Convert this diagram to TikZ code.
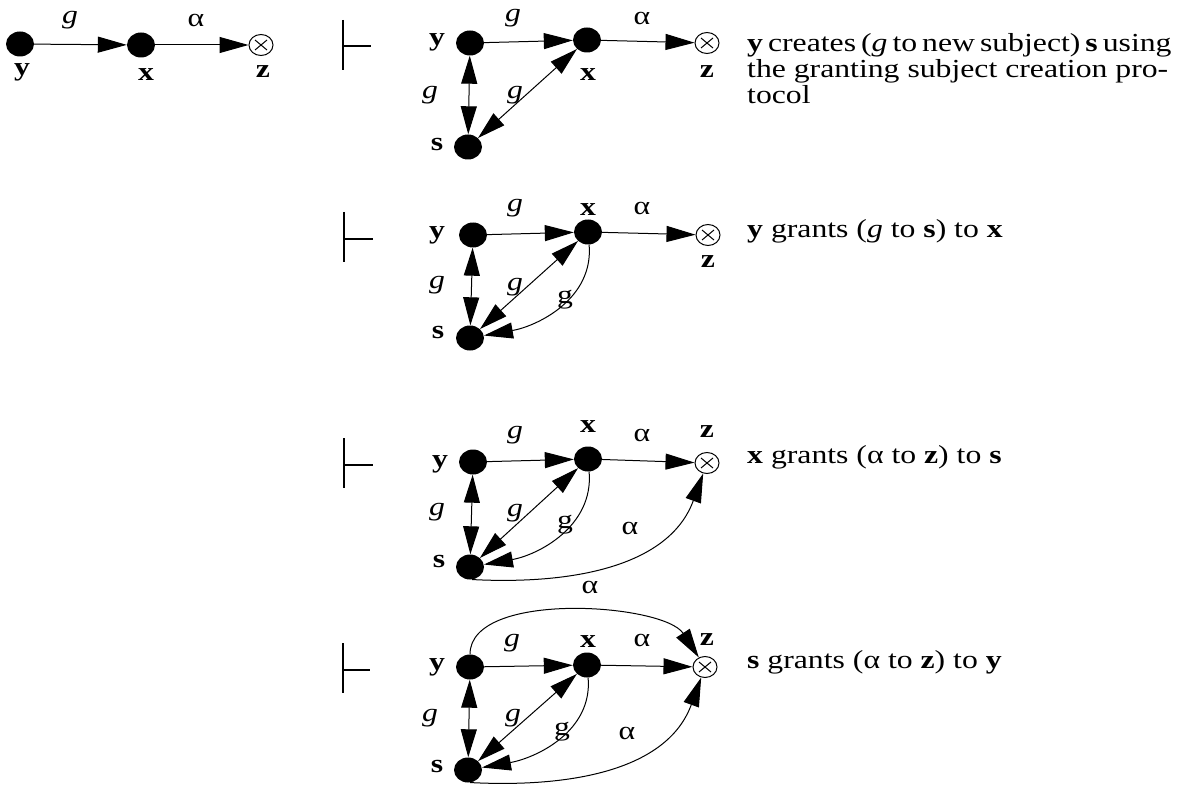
\documentclass[tikz,border=0pt]{standalone}
\usepackage{fontspec}
\setmainfont{Liberation Serif}[FakeStretch=1.22]
\usetikzlibrary{arrows.meta,shapes.geometric}
\newcommand\bigfnt{\fontsize{26}{26}\selectfont}
\newcommand\tsp{\hspace{5pt}}
\tikzset{
  dot/.style={ellipse, fill=black, minimum width=28pt, minimum height=25pt, inner sep=0pt},
  zn/.style={ellipse, draw, line width=1pt, fill=white, minimum width=24pt, minimum height=21pt, inner sep=0pt,
    path picture={\draw[line width=1pt] ([shift={(-6pt,-5pt)}]path picture bounding box.center) -- ++(12pt,10pt)
      ([shift={(-6pt,5pt)}]path picture bounding box.center) -- ++(12pt,-10pt);}},
  lbl/.style={font=\bigfnt\bfseries, inner sep=0pt},
  elbl/.style={font=\bigfnt, inner sep=0pt},
  arr/.style={line width=1pt, -{Triangle[length=29pt,width=16pt]}},
  darr/.style={line width=1pt, {Triangle[length=28pt,width=16pt]}-{Triangle[length=28pt,width=16pt]}},
  turn/.style={line width=1.6pt},
  desc/.style={font=\bigfnt, anchor=base west, align=left, inner sep=0pt}
}
\begin{document}
\begin{tikzpicture}[x=1pt,y=1pt]
\useasboundingbox (0,0) rectangle (1182,-786);

% ---- top-left graph
\node[dot] (y0) at (20,-44) {};
\node[dot] (x0) at (141,-45) {};
\node[zn] (z0) at (261,-45) {};
\node[lbl] (ly0) at (22,-72) {y};
\node[lbl] (lx0) at (146,-75) {x};
\node[lbl] (lz0) at (263,-72) {z};
\node[elbl] (g0) at (70,-20) {\textit{g}};
\node[elbl] (a0) at (196,-20) {α};
\draw[arr] (y0) -- (x0);
\draw[arr] (x0) -- (z0);

% ---- panel 1
\coordinate (t1a) at (343,-20); \coordinate (t1b) at (343,-70);
\coordinate (t1c) at (343,-46); \coordinate (t1d) at (371,-46);
\draw[turn] (t1a) -- (t1b) (t1c) -- (t1d);
\node[dot] (y1) at (470,-43) {};
\node[dot] (x1) at (587,-40) {};
\node[zn] (z1) at (707,-43) {};
\node[dot] (s1) at (468,-147) {};
\node[lbl] (ly1) at (437,-42) {y};
\node[lbl] (lx1) at (588,-75) {x};
\node[lbl] (lz1) at (707,-72) {z};
\node[lbl] (ls1) at (437,-145) {s};
\node[elbl] (g1a) at (513,-18) {\textit{g}};
\node[elbl] (a1a) at (642,-18) {α};
\node[elbl] (g1b) at (430,-95) {\textit{g}};
\node[elbl] (g1c) at (515,-95) {\textit{g}};
\draw[arr] (y1) -- (x1);
\draw[arr] (x1) -- (z1);
\draw[darr] (y1) -- (s1);
\draw[darr] (x1) -- (s1);
\node[desc] (d1) at (747,-104) {\textbf{y}\tsp creates\tsp(\textit{g}\tsp to\tsp new\tsp subject)\tsp\textbf{s}\tsp using\\the granting subject creation pro-\\tocol};

% ---- panel 2
\coordinate (t2a) at (344,-212); \coordinate (t2b) at (344,-262);
\coordinate (t2c) at (344,-239); \coordinate (t2d) at (373,-239);
\draw[turn] (t2a) -- (t2b) (t2c) -- (t2d);
\node[dot] (y2) at (473,-235) {};
\node[dot] (x2) at (588,-232) {};
\node[zn] (z2) at (708,-235) {};
\node[dot] (s2) at (470,-338) {};
\node[lbl] (ly2) at (437,-235) {y};
\node[lbl] (lx2) at (588,-210) {x};
\node[lbl] (lz2) at (708,-262) {z};
\node[lbl] (ls2) at (438,-333) {s};
\node[elbl] (g2a) at (515,-208) {\textit{g}};
\node[elbl] (a2a) at (642,-208) {α};
\node[elbl] (g2b) at (437,-285) {\textit{g}};
\node[elbl] (g2c) at (515,-287) {\textit{g}};
\node[elbl] (g2d) at (565,-300) {g};
\draw[arr] (y2) -- (x2);
\draw[arr] (x2) -- (z2);
\draw[darr] (y2) -- (s2);
\draw[darr] (x2) -- (s2);
\draw[arr] (x2) to[out=-85,in=10] (s2);
\node[desc] (d2) at (747,-238) {\textbf{y} grants (\textit{g} to \textbf{s}) to \textbf{x}};

% ---- panel 3
\coordinate (t3a) at (344,-438); \coordinate (t3b) at (344,-488);
\coordinate (t3c) at (344,-465); \coordinate (t3d) at (373,-465);
\draw[turn] (t3a) -- (t3b) (t3c) -- (t3d);
\node[dot] (y3) at (473,-462) {};
\node[dot] (x3) at (588,-459) {};
\node[zn] (z3) at (707,-463) {};
\node[dot] (s3) at (470,-567) {};
\node[lbl] (ly3) at (440,-464) {y};
\node[lbl] (lx3) at (588,-427) {x};
\node[lbl] (lz3) at (707,-432) {z};
\node[lbl] (ls3) at (439,-561) {s};
\node[elbl] (g3a) at (515,-435) {\textit{g}};
\node[elbl] (a3a) at (642,-435) {α};
\node[elbl] (g3b) at (437,-512) {\textit{g}};
\node[elbl] (g3c) at (515,-513) {\textit{g}};
\node[elbl] (g3d) at (565,-525) {g};
\node[elbl] (a3b) at (630,-528) {α};
\draw[arr] (y3) -- (x3);
\draw[arr] (x3) -- (z3);
\draw[darr] (y3) -- (s3);
\draw[darr] (x3) -- (s3);
\draw[arr] (x3) to[out=-85,in=10] (s3);
\draw[arr] (s3.-80) to[out=-3,in=-110] (z3);
\node[desc] (d3) at (747,-463) {\textbf{x} grants (α to \textbf{z}) to \textbf{s}};

% ---- panel 4
\coordinate (t4a) at (343,-643); \coordinate (t4b) at (343,-693);
\coordinate (t4c) at (343,-670); \coordinate (t4d) at (370,-670);
\draw[turn] (t4a) -- (t4b) (t4c) -- (t4d);
\node[dot] (y4) at (470,-667) {};
\node[dot] (x4) at (587,-665) {};
\node[zn] (z4) at (705,-667) {};
\node[dot] (s4) at (468,-770) {};
\node[lbl] (ly4) at (437,-667) {y};
\node[lbl] (lx4) at (588,-642) {x};
\node[lbl] (lz4) at (707,-640) {z};
\node[lbl] (ls4) at (437,-766) {s};
\node[elbl] (a4c) at (590,-587) {α};
\node[elbl] (g4a) at (512,-643) {\textit{g}};
\node[elbl] (a4a) at (642,-640) {α};
\node[elbl] (g4b) at (430,-718) {\textit{g}};
\node[elbl] (g4c) at (513,-718) {\textit{g}};
\node[elbl] (g4d) at (562,-732) {g};
\node[elbl] (a4b) at (627,-733) {α};
\draw[arr] (y4) -- (x4);
\draw[arr] (x4) -- (z4);
\draw[darr] (y4) -- (s4);
\draw[darr] (x4) -- (s4);
\draw[arr] (x4) to[out=-85,in=10] (s4);
\draw[arr] (s4.-80) to[out=-3,in=-110] (z4);
\draw[arr] (y4.north) to[out=90,in=123,looseness=0.72] (z4);
\node[desc] (d4) at (747,-668) {\textbf{s} grants (α to \textbf{z}) to \textbf{y}};
\end{tikzpicture}
\end{document}
